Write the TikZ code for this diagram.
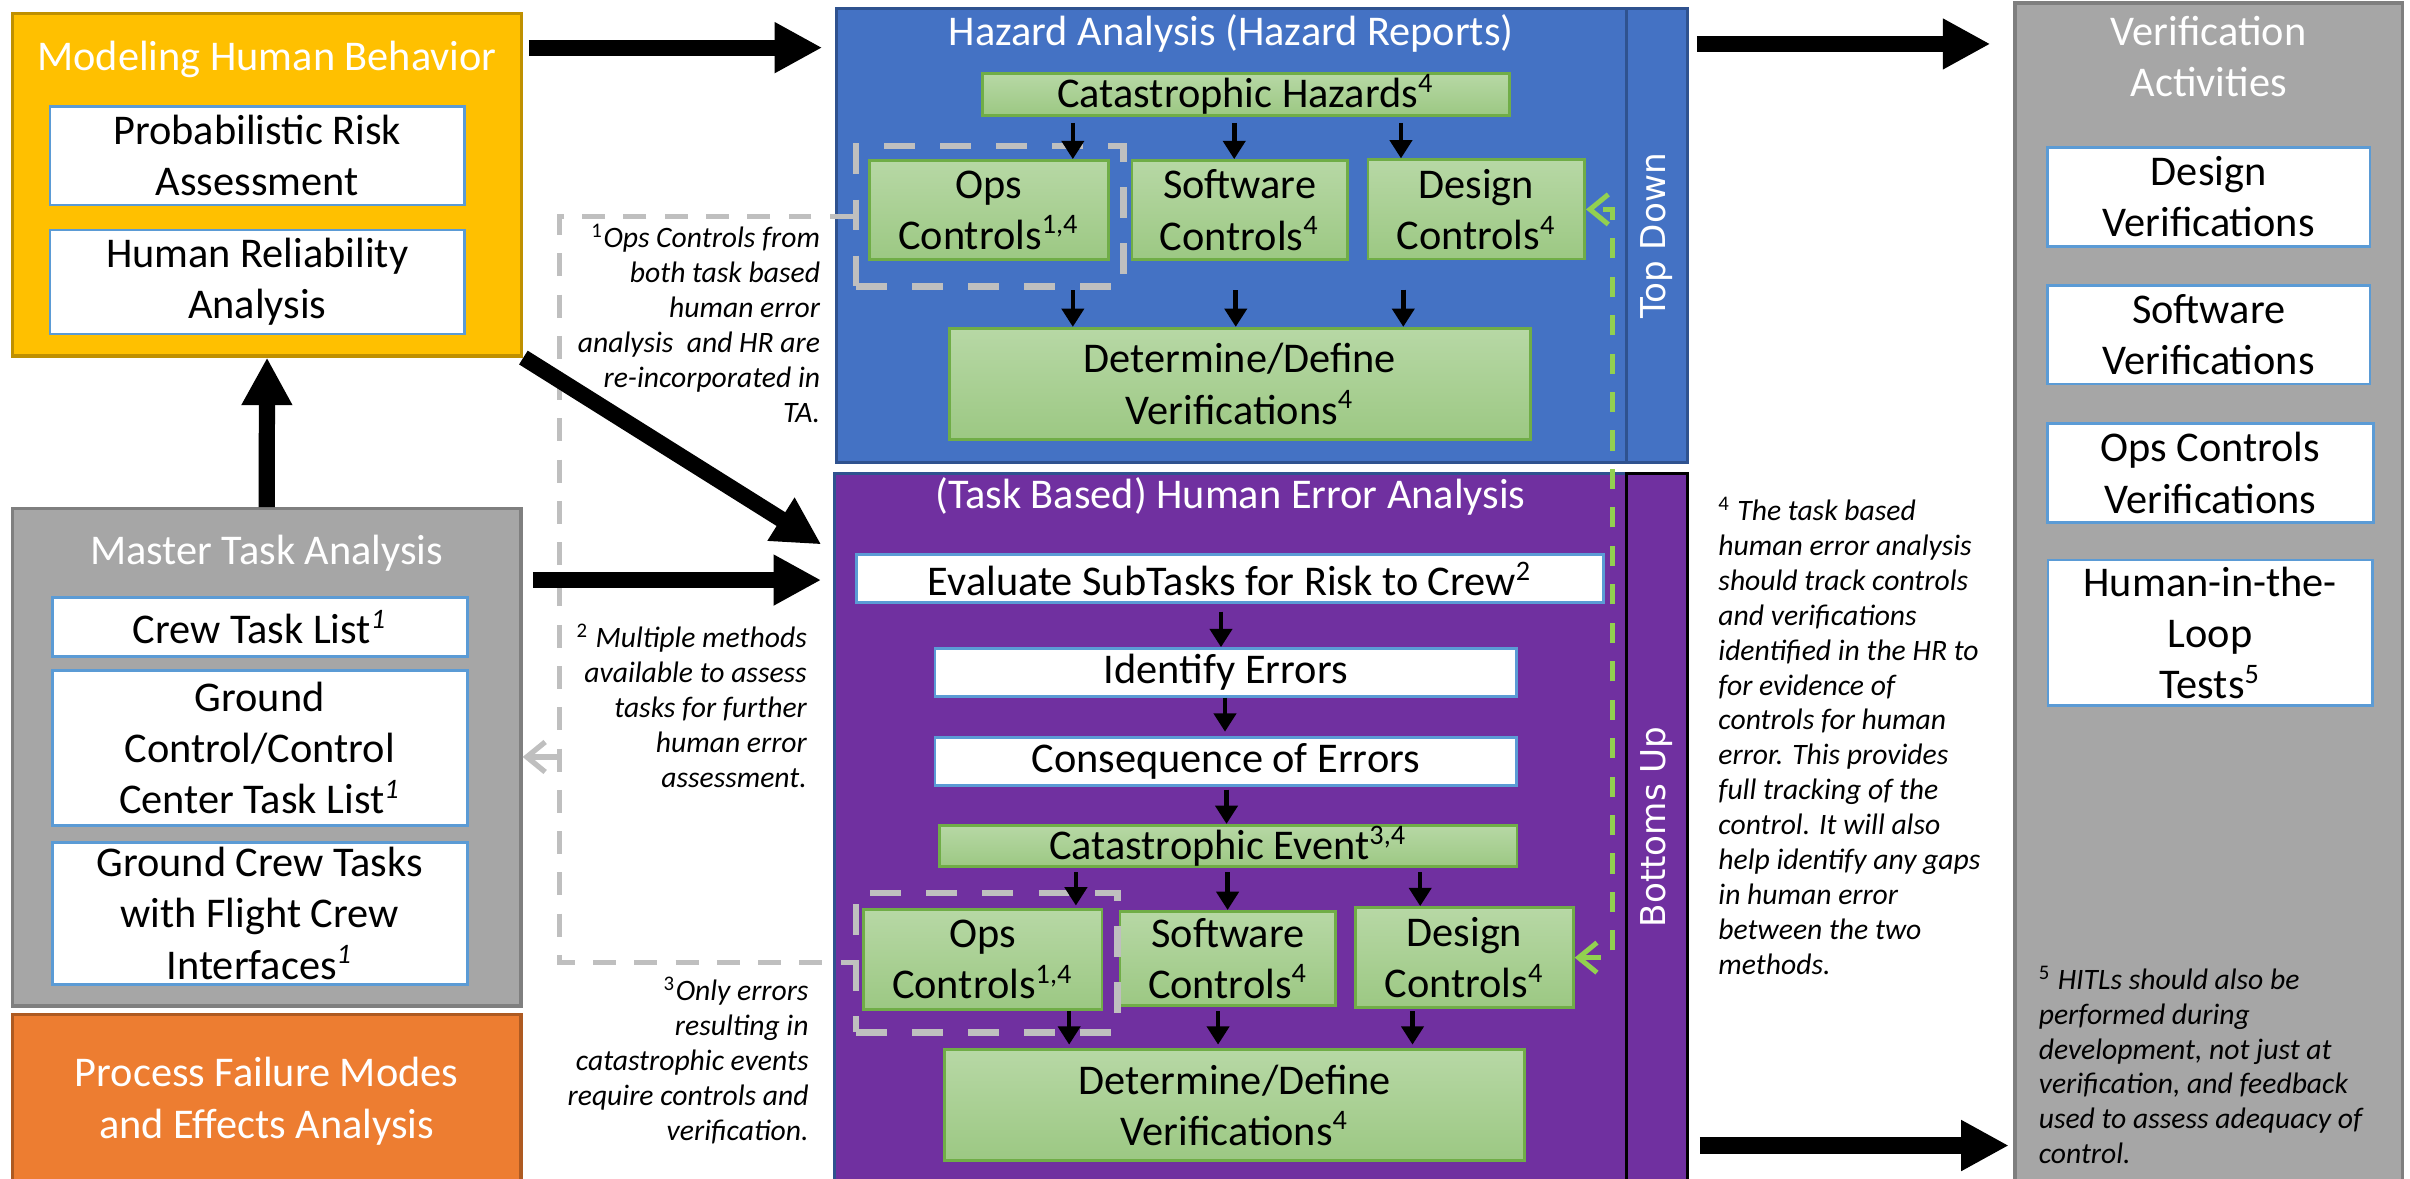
\documentclass[tikz,border=0pt]{standalone}
\usepackage{fontspec}
\setmainfont{Carlito}
\newfontfamily\stripfont{DejaVu Sans}
\usetikzlibrary{arrows.meta}
\definecolor{mhbyellow}{HTML}{FFC000}
\definecolor{mhbline}{HTML}{BF9000}
\definecolor{mtagray}{HTML}{A6A6A6}
\definecolor{mtaline}{HTML}{7F7F7F}
\definecolor{pforange}{HTML}{ED7D31}
\definecolor{pfline}{HTML}{AE5A21}
\definecolor{hazblue}{HTML}{4472C4}
\definecolor{hazline}{HTML}{2F528F}
\definecolor{heapurple}{HTML}{7030A0}
\definecolor{wline}{HTML}{5B9BD5}
\definecolor{gline}{HTML}{70AD47}
\definecolor{gtop}{HTML}{B7D8A5}
\definecolor{gbot}{HTML}{9CC883}
\definecolor{dashgray}{HTML}{BFBFBF}
\definecolor{fbgreen}{HTML}{92D050}
\newcommand{\dpx}{0.4357pt}
\tikzset{
 sz/.style 2 args={minimum width=#1*\dpx, minimum height=#2*\dpx},
 cbox/.style={rectangle, inner sep=0pt, align=center, font=\fontsize{12}{14.5}\selectfont},
 panel/.style={cbox, line width=0.9pt},
 wbox/.style={cbox, draw=wline, fill=white, line width=0.8pt},
 gbox/.style={cbox, draw=gline, top color=gtop, bottom color=gbot, line width=0.8pt},
 headtext/.style={text=white, inner sep=0pt, align=center, font=\fontsize{12}{14.4}\selectfont},
 striptext/.style={text=white, inner sep=0pt, rotate=90, font=\stripfont\fontsize{9.7}{11}\selectfont},
 note/.style={inner sep=0pt, font=\fontsize{8.4}{9.9}\selectfont\itshape},
 grp/.style={rectangle, draw=dashgray, line width=1.9pt, dash pattern=on 8.7pt off 7.2pt},
 link/.style={draw=dashgray, line width=1.5pt, dash pattern=on 6.5pt off 5.2pt},
 fbline/.style={draw=fbgreen, line width=1.4pt, dash pattern=on 5.7pt off 5.2pt},
 barb/.tip={Straight Barb[width=8.5pt,length=5.2pt]},
 bigarr/.style={line width=4.6pt, -{Triangle[width=13.5pt,length=13.5pt]}},
 arr/.style={line width=1.3pt, -{Triangle[width=6.2pt,length=5.2pt]}}
}
\begin{document}
\begin{tikzpicture}[x=\dpx, y=-\dpx]
 \useasboundingbox (0,0) rectangle (1568,767);
 % left column
 \node[panel, fill=mhbyellow, draw=mhbline, sz={331.5}{222.6}] (mhb) at (173.75,120.3) {};
 \node[headtext] (mhbt) at (173.75,38.6) {Modeling Human Behavior};
 \node[wbox, sz={269.7}{64}] (pra) at (167.35,101.4) {Probabilistic Risk\\Assessment};
 \node[wbox, sz={269.7}{67.7}] (hra) at (167.35,183.45) {Human Reliability\\Analysis};
 \node[panel, fill=mtagray, draw=mtaline, sz={331}{323.5}] (mta) at (173.5,492.75) {};
 \node[headtext] (mtat) at (173.5,360) {Master Task Analysis};
 \node[wbox, sz={270}{38}] (ctl) at (169,408) {Crew Task List\textsuperscript{\itshape 1}};
 \node[wbox, sz={270}{101}] (gcl) at (169,486.5) {Ground\\Control/Control\\Center Task List\textsuperscript{\itshape 1}};
 \node[wbox, sz={270}{92.5}] (gct) at (169,594.25) {Ground Crew Tasks\\with Flight Crew\\Interfaces\textsuperscript{\itshape 1}};
 \node[panel, fill=pforange, draw=pfline, text=white, sz={331}{113}] (pfm) at (173.5,716.5) {Process Failure Modes\\and Effects Analysis};
 % hazard analysis
 \node[panel, fill=hazblue, draw=hazline, sz={514}{295.6}] (haz) at (801,153.2) {};
 \node[panel, fill=hazblue, draw=hazline, sz={40}{295.6}] (topdown) at (1078,153.2) {};
 \node[striptext] (topdownt) at (1078,153.5) {Top Down};
 \node[headtext] (hazt) at (801,21.7) {Hazard Analysis (Hazard Reports)};
 \node[gbox, sz={343}{27}] (catH) at (810.5,61.5) {Catastrophic Hazards\textsuperscript{4}};
 \node[gbox, sz={155.5}{64.5}] (opsH) at (643.25,136.75) {Ops\\Controls\textsuperscript{1,4}};
 \node[gbox, sz={140}{64.5}] (swH) at (806.5,136.75) {Software\\Controls\textsuperscript{4}};
 \node[gbox, sz={141}{64.5}] (desH) at (960.5,136.25) {Design\\Controls\textsuperscript{4}};
 \node[gbox, sz={377.5}{72.4}] (detH) at (806.75,249.8) {Determine/Define\\Verifications\textsuperscript{4}};
 \node[grp, sz={174}{91.6}] (opsgrpH) at (644,140.8) {};
 % task based human error analysis
 \node[panel, fill=heapurple, draw=hazline, sz={515}{464}] (hea) at (800.5,540) {};
 \node[panel, fill=heapurple, draw=black, sz={40}{464}] (bottomsup) at (1078,540) {};
 \node[striptext] (bottomsupt) at (1078,538) {Bottoms Up};
 \node[headtext] (heat) at (800.5,323) {(Task Based) Human Error Analysis};
 \node[wbox, sz={485.5}{31}] (evalB) at (800.25,376.5) {Evaluate SubTasks for Risk to Crew\textsuperscript{2}};
 \node[wbox, sz={378.4}{31}] (identB) at (797.5,437.5) {Identify Errors};
 \node[wbox, sz={378.4}{30.8}] (consB) at (797.5,495.4) {Consequence of Errors};
 \node[gbox, sz={376}{27}] (catE) at (799,550.5) {Catastrophic Event\textsuperscript{3,4}};
 \node[gbox, sz={155.4}{65.1}] (opsB) at (639.3,624.15) {Ops\\Controls\textsuperscript{1,4}};
 \node[gbox, sz={140.3}{61}] (swB) at (798.85,623.5) {Software\\Controls\textsuperscript{4}};
 \node[gbox, sz={141.6}{65.1}] (desB) at (952.8,623.05) {Design\\Controls\textsuperscript{4}};
 \node[gbox, sz={377.3}{72}] (detB) at (803.35,719) {Determine/Define\\Verifications\textsuperscript{4}};
 \node[grp, sz={170}{90.6}] (opsgrpB) at (642,626.3) {};
 % verification activities
 \node[panel, fill=mtagray, draw=mtaline, sz={252}{773}] (va) at (1437,388.5) {};
 \node[headtext] (vat) at (1437,37) {Verification\\Activities};
 \node[wbox, sz={210}{64.4}] (dv) at (1437,128) {Design\\Verifications};
 \node[wbox, sz={210}{64.3}] (sv) at (1437,217.65) {Software\\Verifications};
 \node[wbox, sz={212}{64.3}] (ov) at (1438,307.75) {Ops Controls\\Verifications};
 \node[wbox, sz={211}{94.5}] (hitl) at (1438,411.65) {Human-in-the-\\Loop\\Tests\textsuperscript{5}};
 % notes
 \node[note, anchor=north east, align=right] (fn1) at (534,145.5) {\textsuperscript{\upshape 1}Ops Controls from\\both task based\\human error\\analysis\ \ and HR are\\re-incorporated in\\TA.};
 \node[note, anchor=north east, align=right] (fn2) at (525.4,405.5) {\textsuperscript{\upshape 2} Multiple methods\\available to assess\\tasks for further\\human error\\assessment.};
 \node[note, anchor=north east, align=right] (fn3) at (526.5,635.5) {\textsuperscript{\upshape 3}Only errors\\resulting in\\catastrophic events\\require controls and\\verification.};
 \node[note, anchor=north west, align=left] (fn4) at (1117.6,323) {\textsuperscript{\upshape 4} The task based\\human error analysis\\should track controls\\and verifications\\identified in the HR to\\for evidence of\\controls for human\\error. This provides\\full tracking of the\\control. It will also\\help identify any gaps\\in human error\\between the two\\methods.};
 \node[note, anchor=north west, align=left] (fn5) at (1326,628) {\textsuperscript{\upshape 5} HITLs should also be\\performed during\\development, not just at\\verification, and feedback\\used to assess adequacy of\\control.};
 % dashed links
 \coordinate (jn) at (364,492.5);
 \draw[link] (opsgrpH.west) -| (jn) |- (opsgrpB.west);
 \draw[dashgray, line width=1.5pt, -{barb}] (jn) -- (mta.east |- jn);
 \coordinate (fbv) at (1049,380);
 \draw[fbline, {barb}-{barb}] (desB.east) -| (fbv) |- (desH.east);
 % thick arrows
 \draw[bigarr, shorten <=3.5*\dpx, shorten >=8*\dpx] (mhb.east |- 0,31) -- (haz.west |- 0,31);
 \draw[bigarr] (mta.north) -- (mhb.south);
 \draw[bigarr, shorten >=9*\dpx] (mhb.south east) -- (hea.west |- 0,359);
 \draw[bigarr, shorten <=6.6*\dpx, shorten >=7.7*\dpx] (mta.east |- 0,377.4) -- (hea.west |- 0,377.4);
 \draw[bigarr, shorten <=5*\dpx, shorten >=15*\dpx] (topdown.east |- 0,28.6) -- (va.west |- 0,28.6);
 \draw[bigarr, shorten <=7*\dpx, shorten >=3*\dpx] (bottomsup.east |- 0,745.3) -- (va.west |- 0,745.3);
 % thin arrows, hazard analysis
 \draw[arr, shorten <=4*\dpx] (catH.south -| 698,0) -- (opsH.north -| 698,0);
 \draw[arr, shorten <=4*\dpx] (catH.south -| 803,0) -- (swH.north -| 803,0);
 \draw[arr, shorten <=4*\dpx] (catH.south -| 911.5,0) -- (desH.north -| 911.5,0);
 \draw[arr] (opsgrpH.south -| 698,0) -- (detH.north -| 698,0);
 \draw[arr, shorten <=19*\dpx] (swH.south -| 804,0) -- (detH.north -| 804,0);
 \draw[arr, shorten <=19*\dpx] (desH.south -| 913,0) -- (detH.north -| 913,0);
 % thin arrows, human error analysis
 \draw[arr, shorten <=5*\dpx] (evalB.south -| 794.4,0) -- (identB.north -| 794.4,0);
 \draw[arr, shorten >=3*\dpx] (identB.south -| 797,0) -- (consB.north -| 797,0);
 \draw[arr, shorten <=2*\dpx] (consB.south -| 798,0) -- (catE.north -| 798,0);
 \draw[arr, shorten <=2.5*\dpx, shorten >=1.5*\dpx] (catE.south -| 700,0) -- (opsB.north -| 700,0);
 \draw[arr, shorten <=2.5*\dpx] (catE.south -| 798.7,0) -- (swB.north -| 798.7,0);
 \draw[arr, shorten <=2.5*\dpx] (catE.south -| 924,0) -- (desB.north -| 924,0);
 \draw[arr, shorten >=2.4*\dpx] (opsB.south -| 695.6,0) -- (detB.north -| 695.6,0);
 \draw[arr, shorten <=3*\dpx, shorten >=2.4*\dpx] (swB.south -| 792.5,0) -- (detB.north -| 792.5,0);
 \draw[arr, shorten <=1.5*\dpx, shorten >=2.4*\dpx] (desB.south -| 919,0) -- (detB.north -| 919,0);
\end{tikzpicture}
\end{document}
